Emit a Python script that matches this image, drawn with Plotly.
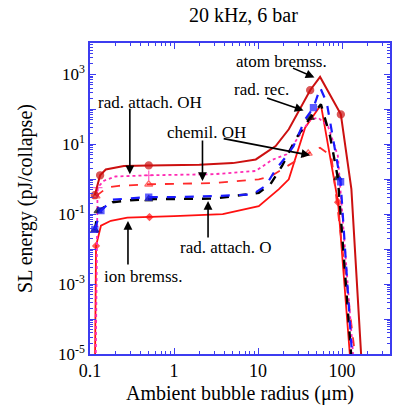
import math
import plotly.graph_objects as go

# Ambient bubble radius (um) and SL energy (pJ/collapse) per emission process
r_atom = [0.114, 0.132, 0.154, 0.253, 0.5, 1, 2, 5, 9.4, 16.2, 23.2, 41.7, 54.7, 96.6, 129, 178]
e_atom = [0.35, 1.3, 1.9, 2.4, 2.5, 2.55, 2.6, 2.9, 3.7, 8.9, 27, 355, 850, 72, 0.52, 1e-6]

r_ion = [0.114, 0.118, 0.135, 0.177, 0.278, 0.51, 1, 3.8, 10.2, 17.7, 23.2, 36.3, 56, 89.6, 124, 133]
e_ion = [1e-6, 0.0124, 0.047, 0.065, 0.08, 0.083, 0.088, 0.1, 0.17, 0.52, 1.0, 30, 135, 0.22, 1e-5, 1e-6]

r_radoh = [0.116, 0.123, 0.147, 0.2, 0.5, 1, 3, 9.4, 14.7, 21.9, 30, 41.8, 52, 68, 89, 135, 142]
e_radoh = [1e-6, 0.58, 0.91, 1.2, 1.3, 1.33, 1.4, 1.73, 3.6, 5.2, 15.6, 51, 58, 33, 4.7, 1e-5, 1e-6]

r_chem = [0.118, 0.16, 0.22, 0.5, 1, 3, 10.2, 14, 23, 39.5, 54.6, 74.5, 142, 150]
e_chem = [0.33, 0.58, 0.65, 0.72, 0.74, 0.78, 1.0, 1.2, 2.5, 5.5, 8.0, 4.7, 1e-5, 1e-6]

r_rec = [0.114, 0.135, 0.185, 0.3, 0.5, 1, 3, 8.6, 12.3, 16.2, 21, 26.4, 36.3, 45.6, 55, 65.7, 96, 131, 140]
e_rec = [0.037, 0.127, 0.26, 0.29, 0.31, 0.31, 0.33, 0.37, 0.65, 1.9, 4.1, 8.9, 52, 112, 414, 155, 0.85, 1e-5, 1e-6]

r_rado = [0.114, 0.125, 0.185, 0.3, 0.5, 1, 3, 10.2, 14, 19.3, 27.8, 41.7, 56, 71.8, 89, 128, 138]
e_rado = [0.035, 0.125, 0.22, 0.25, 0.27, 0.27, 0.28, 0.41, 0.72, 2.4, 13.8, 58, 140, 17.5, 1.1, 1e-5, 1e-6]

x_ticks = [0.1, 1, 10, 100]
x_labels = ["0.1", "1", "10", "100"]
y_exps = [-5, -4, -3, -2, -1, 0, 1, 2, 3]

AXIS = "#3c3cf0"
SERIF = "Liberation Serif"

fig = go.Figure()


def add_series(x, y, name, color, dash, width, symbol, msize, marked):
    sizes = [msize if i in marked else 0 for i in range(len(x))]
    fig.add_trace(go.Scatter(
        x=x, y=y, name=name, mode="lines+markers",
        line=dict(color=color, dash=dash, width=width),
        marker=dict(symbol=symbol, size=sizes, color=color,
                    line=dict(color=color, width=1.3)),
    ))


add_series(r_ion, e_ion, "ion bremss.", "#ff1010", "solid", 1.8, "diamond", 5, {1, 5, 13})
add_series(r_chem, e_chem, "chemil. OH", "#ff2a2a", "dash", 1.8, "triangle-up-open", 7, {0, 3, 9})
add_series(r_radoh, e_radoh, "rad. attach. OH", "#ff2ab4", "dot", 1.8, "cross-thin", 7, {1, 4})
add_series(r_rado, e_rado, "rad. attach. O", "#000000", "dash", 2.4, "triangle-up", 7, {0, 1, 4, 11, 14})
add_series(r_rec, e_rec, "rad. rec.", "#1a1aff", "dash", 2.2, "square", 6, {0, 1, 4, 13, 16})
add_series(r_atom, e_atom, "atom bremss.", "#cc1010", "solid", 2.0, "circle", 7, {0, 1, 4, 11, 13})

L, R, T, B = 90, 4, 43, 50
W, H = 396, 405


def px(xp, yp):
    return (xp - L) / (W - L - R), (H - B - yp) / (H - B - T)


# arrows: head on a curve (data units), tail offset in pixels
arrows = [
    (46.9, 820, -23, -10),
    (34.8, 93.6, -38, -13),
    (0.298, 1.39, 0, -67),
    (2.18, 0.89, 0, -42),
    (41.7, 4.85, -88, -17),
    (2.54, 0.24, 0, 38),
    (0.283, 0.064, 0, 45),
]
for hx, hy, ax, ay in arrows:
    fig.add_annotation(x=math.log10(hx), y=math.log10(hy), xref="x", yref="y",
                       ax=ax, ay=ay, showarrow=True, arrowhead=2, arrowsize=1.1,
                       arrowwidth=1.6, arrowcolor="black", text="")

labels = [
    ("atom bremss.", 283, 62),
    ("rad. rec.", 263, 90),
    ("rad. attach. OH", 150.5, 103),
    ("chemil. OH", 207.5, 133),
    ("rad. attach. O", 226.7, 248),
    ("ion bremss.", 143.3, 277),
]
for txt, lx, ly in labels:
    xp, yp = px(lx, ly)
    fig.add_annotation(x=xp, y=yp, xref="paper", yref="paper", text=txt,
                       xanchor="center", yanchor="middle", showarrow=False,
                       font=dict(family=SERIF, size=17, color="black"))

# chart title
tx, ty = px(245, 15)
fig.add_annotation(x=tx, y=ty, xref="paper", yref="paper",
                   text="20 kHz, 6 bar", xanchor="center", yanchor="middle",
                   showarrow=False, font=dict(family=SERIF, size=20, color="black"))

fig.update_layout(
    width=W, height=H,
    margin=dict(l=L, r=R, t=T, b=B),
    paper_bgcolor="white", plot_bgcolor="white",
    showlegend=False,
    font=dict(family=SERIF, size=17, color="black"),
)

fig.update_xaxes(
    type="log", range=[-1.0, 2.57],
    tickvals=x_ticks, ticktext=x_labels,
    ticks="inside", ticklen=6, tickcolor=AXIS, tickwidth=1,
    minor=dict(ticks="inside", ticklen=3, tickcolor=AXIS, dtick="D1", showgrid=False),
    showline=True, linecolor=AXIS, linewidth=1.5, mirror="allticks",
    showgrid=False, zeroline=False,
    tickfont=dict(family=SERIF, size=18, color="black"),
    title=dict(text="Ambient bubble radius (μm)", font=dict(family=SERIF, size=20, color="black"),
               standoff=6),
)
fig.update_yaxes(
    type="log", range=[-5.0, 3.9],
    tickvals=[10.0 ** e for e in y_exps],
    ticktext=[("10<sup>%d</sup>" % e) if e % 2 else "" for e in y_exps],
    ticks="inside", ticklen=6, tickcolor=AXIS, tickwidth=1,
    minor=dict(ticks="inside", ticklen=3, tickcolor=AXIS, dtick="D1", showgrid=False),
    showline=True, linecolor=AXIS, linewidth=1.5, mirror="allticks",
    showgrid=False, zeroline=False,
    tickfont=dict(family=SERIF, size=17, color="black"),
    title=dict(text="SL energy (pJ/collapse)", font=dict(family=SERIF, size=20, color="black"),
               standoff=20),
)

fig.write_html("out.html")
